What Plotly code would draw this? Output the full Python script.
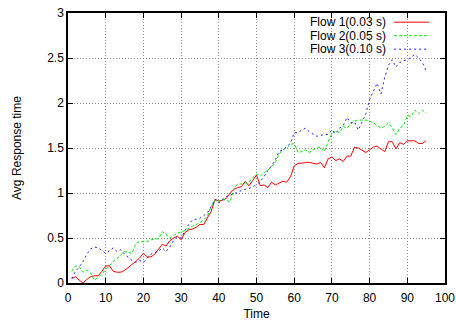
import plotly.graph_objects as go

# Sample times (s)
time = list(range(1, 96))

# Average response time per flow
flow1 = [0.05, 0.07, 0.03, 0.00, 0.04, 0.07, 0.08, 0.08, 0.13, 0.19,
         0.19, 0.13, 0.12, 0.12, 0.14, 0.17, 0.20, 0.24, 0.28, 0.33,
         0.29, 0.29, 0.32, 0.38, 0.43, 0.41, 0.47, 0.50, 0.52, 0.48,
         0.56, 0.59, 0.60, 0.62, 0.65, 0.65, 0.72, 0.80, 0.93, 0.91,
         0.92, 0.94, 1.00, 1.04, 1.06, 1.07, 1.13, 1.08, 1.14, 1.20,
         1.08, 1.09, 1.06, 1.12, 1.09, 1.11, 1.13, 1.12, 1.18, 1.30,
         1.33, 1.33, 1.34, 1.34, 1.33, 1.32, 1.34, 1.28, 1.38, 1.40,
         1.36, 1.38, 1.35, 1.41, 1.41, 1.51, 1.50, 1.47, 1.45, 1.48,
         1.51, 1.52, 1.49, 1.46, 1.57, 1.57, 1.49, 1.56, 1.54, 1.58,
         1.58, 1.58, 1.55, 1.55, 1.58]

flow2 = [0.13, 0.19, 0.18, 0.12, 0.14, 0.11, 0.03, 0.06, 0.10, 0.15,
         0.20, 0.24, 0.27, 0.31, 0.35, 0.34, 0.33, 0.44, 0.46, 0.46,
         0.46, 0.48, 0.49, 0.49, 0.57, 0.54, 0.50, 0.53, 0.55, 0.57,
         0.58, 0.61, 0.63, 0.65, 0.68, 0.70, 0.75, 0.85, 0.92, 0.91,
         0.93, 0.92, 0.90, 1.05, 1.10, 1.10, 1.11, 1.12, 1.17, 1.21,
         1.19, 1.22, 1.26, 1.29, 1.34, 1.43, 1.48, 1.50, 1.54, 1.55,
         1.45, 1.46, 1.48, 1.45, 1.48, 1.50, 1.51, 1.46, 1.57, 1.66,
         1.69, 1.67, 1.74, 1.72, 1.77, 1.80, 1.81, 1.81, 1.81, 1.80,
         1.78, 1.75, 1.72, 1.74, 1.78, 1.72, 1.65, 1.72, 1.75, 1.86,
         1.85, 1.92, 1.88, 1.92, 1.89]

flow3 = [0.05, 0.13, 0.18, 0.24, 0.32, 0.38, 0.40, 0.39, 0.36, 0.33,
         0.36, 0.39, 0.35, 0.37, 0.32, 0.28, 0.25, 0.23, 0.25, 0.23,
         0.28, 0.32, 0.34, 0.35, 0.39, 0.35, 0.40, 0.47, 0.51, 0.50,
         0.58, 0.65, 0.70, 0.71, 0.72, 0.75, 0.78, 0.85, 0.93, 0.89,
         0.92, 0.96, 0.97, 1.00, 1.00, 1.03, 1.04, 1.05, 1.07, 1.09,
         1.13, 1.18, 1.25, 1.30, 1.37, 1.46, 1.48, 1.51, 1.55, 1.67,
         1.67, 1.70, 1.72, 1.68, 1.65, 1.63, 1.64, 1.65, 1.65, 1.70,
         1.66, 1.72, 1.75, 1.84, 1.78, 1.79, 1.70, 1.80, 1.88, 2.04,
         2.14, 2.22, 2.10, 2.28, 2.42, 2.48, 2.40, 2.45, 2.47, 2.48,
         2.51, 2.54, 2.50, 2.45, 2.36]

names = ["Flow 1(0.03 s)", "Flow 2(0.05 s)", "Flow 3(0.10 s)"]
colors = ["#ff0000", "#00ee00", "#2020ff"]
dashes = ["solid", "3px,2px", "2px,3px"]

x_ticks = list(range(0, 101, 10))
y_ticks = [0, 0.5, 1, 1.5, 2, 2.5, 3]

FONT = "Liberation Sans, Arial, Helvetica, sans-serif"

fig = go.Figure()
for name, ys, c, d in zip(names, [flow1, flow2, flow3], colors, dashes):
    fig.add_trace(go.Scatter(
        x=time, y=ys, mode="lines", name=name, showlegend=False,
        line=dict(color=c, width=1, dash=d),
    ))

# gnuplot-style key: right-aligned text with a line sample on its right
key_rows = [0.966, 0.916, 0.866]
for name, c, d, ky in zip(names, colors, dashes, key_rows):
    fig.add_annotation(
        x=0.845, y=ky, xref="paper", yref="paper", text=name,
        showarrow=False, xanchor="right", yanchor="middle", borderpad=0,
        font=dict(size=12, color="#000000", family=FONT),
    )
    fig.add_shape(
        type="line", xref="paper", yref="paper",
        x0=0.865, x1=0.958, y0=ky, y1=ky,
        line=dict(color=c, width=1, dash=d),
    )

axis_common = dict(
    showline=True, linecolor="#000000", linewidth=1.5, mirror="ticks",
    ticks="inside", ticklen=5, tickcolor="#000000", tickwidth=1,
    showgrid=True, gridcolor="#8a8a8a", griddash="1px,2px", gridwidth=1,
    zeroline=False, automargin=False,
    tickfont=dict(size=12, color="#000000", family=FONT),
)

fig.update_xaxes(
    range=[0, 100], tickvals=x_ticks, ticktext=[str(v) for v in x_ticks],
    ticklabelstandoff=3,
    title=dict(text="Time", font=dict(size=12, color="#000000", family=FONT), standoff=5),
    **axis_common,
)
fig.update_yaxes(
    range=[0, 3], tickvals=y_ticks, ticktext=[f"{v:g}" for v in y_ticks],
    title=dict(text="Avg Response time", font=dict(size=12, color="#000000", family=FONT), standoff=23),
    **axis_common,
)

fig.update_layout(
    width=456, height=324,
    margin=dict(l=68, r=11, t=13, b=41),
    plot_bgcolor="#ffffff", paper_bgcolor="#ffffff",
    font=dict(family=FONT, size=12, color="#000000"),
)

fig.write_html("out.html")
